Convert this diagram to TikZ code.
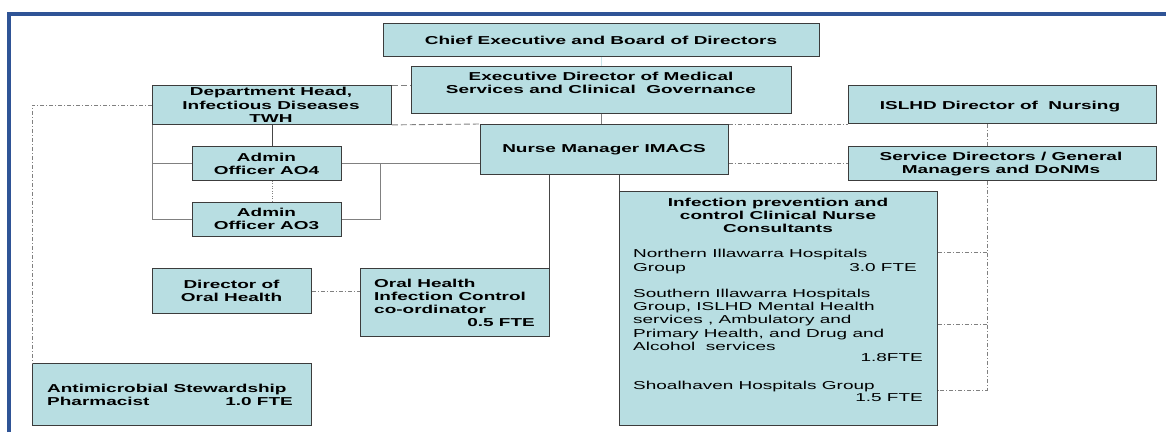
\documentclass[tikz,border=0pt]{standalone}
\usepackage{fontspec}
\setmainfont{Liberation Sans}[FakeStretch=1.65]
\definecolor{boxfill}{RGB}{184,222,226}
\definecolor{boxdraw}{RGB}{60,60,60}
\definecolor{linegray}{RGB}{128,128,128}
\definecolor{linedark}{RGB}{70,70,70}
\definecolor{framecol}{RGB}{47,84,150}
\definecolor{lightcyan}{RGB}{200,228,232}
\tikzset{
  orgbox/.style={draw=boxdraw, fill=boxfill, line width=0.9pt, inner sep=0pt, anchor=north west},
  txt/.style={inner sep=0pt, font=\fontsize{11.5}{13.3}\selectfont\bfseries, align=center},
  ltxt/.style={inner sep=0pt, font=\fontsize{11.5}{13.3}\selectfont\bfseries, anchor=base west},
  rtxt/.style={inner sep=0pt, font=\fontsize{11.5}{13.3}\selectfont\bfseries, anchor=base east},
  ptxt/.style={inner sep=0pt, font=\fontsize{11.5}{13.3}\selectfont, anchor=base west},
  prtxt/.style={inner sep=0pt, font=\fontsize{11.5}{13.3}\selectfont, anchor=base east},
  ctxt/.style={inner sep=0pt, font=\fontsize{11.5}{13.3}\selectfont\bfseries, anchor=base},
  solidln/.style={draw=linegray, line width=0.9pt},
  darkln/.style={draw=linedark, line width=0.9pt},
  dashln/.style={draw=linegray, line width=0.9pt, dash pattern=on 6pt off 3pt},
  dotdash/.style={draw=linegray, line width=0.9pt, dash pattern=on 4pt off 2pt on 1pt off 2pt},
  dotln/.style={draw=linegray, line width=0.9pt, dash pattern=on 1pt off 1.5pt},
}
\begin{document}
\begin{tikzpicture}[x=1pt,y=-1pt]
\path[use as bounding box] (0,0) rectangle (1166,432);
% frame
\draw[framecol, line width=4pt] (9,432) -- (9,14) -- (1166,14);
% boxes
\node[orgbox, minimum width=436, minimum height=33] (chief) at (383,23) {};
\node[orgbox, minimum width=380, minimum height=47] (exec) at (411,66) {};
\node[orgbox, minimum width=239, minimum height=39] (dept) at (152,85) {};
\node[orgbox, minimum width=248, minimum height=50] (nm) at (480,124) {};
\node[orgbox, minimum width=308, minimum height=38] (islhd) at (848,85) {};
\node[orgbox, minimum width=308, minimum height=34] (svc) at (848,146) {};
\node[orgbox, minimum width=149, minimum height=34] (ao4) at (192,146) {};
\node[orgbox, minimum width=149, minimum height=34] (ao3) at (192,202) {};
\node[orgbox, minimum width=159, minimum height=45] (doh) at (152,268) {};
\node[orgbox, minimum width=189, minimum height=68] (oral) at (360,268) {};
\node[orgbox, minimum width=318, minimum height=234] (ipc) at (619,191) {};
\node[orgbox, minimum width=279, minimum height=62] (amr) at (32,363) {};
\coordinate (rv) at (987,0);
\coordinate (rb) at (380,0);
% connectors
\draw[draw=lightcyan, line width=1.2pt] (chief.south) -- (exec.north);
\draw[solidln] (exec.south) -- (exec.south |- nm.north);
\draw[dashln] (dept.north east) -- (dept.north east -| exec.west);
\draw[dashln] (dept.south east) -- (nm.north west);
\draw[dotdash] (nm.north east) -- (nm.north east -| islhd.west);
\draw[dotdash] (svc.west -| nm.east) -- (svc.west);
\draw[dotdash] (islhd.south -| rv) -- (svc.north -| rv);
\coordinate (r1) at (987,252);
\coordinate (r2) at (987,324);
\coordinate (r3) at (987,390);
\draw[dotdash] (svc.south -| rv) -- (r3) -- (r3 -| ipc.east);
\draw[dotdash] (r1 -| ipc.east) -- (r1);
\draw[dotdash] (r2 -| ipc.east) -- (r2);
\draw[darkln] (dept.south) -- (dept.south |- ao4.north);
\draw[dotln] (dept.south |- ao4.south) -- (dept.south |- ao3.north);
\draw[solidln] (dept.south west) -- (dept.south west |- ao3.west) -- (ao3.west);
\draw[solidln] (ao4.west -| dept.west) -- (ao4.west);
\draw[solidln] (ao4.east) -- (ao4.east -| nm.west);
\draw[solidln] (ao4.east -| rb) -- (ao3.east -| rb) -- (ao3.east);
\draw[darkln] (oral.north east |- nm.south) -- (oral.north east);
\draw[darkln] (ipc.north west |- nm.south) -- (ipc.north west);
\draw[dotdash] (doh.east) -- (doh.east -| oral.west);
\draw[dotdash] (dept.west) -- (dept.west -| amr.north west) -- (amr.north west);
% texts
\node[txt] (tchief) at (601,40) {Chief Executive and Board of Directors};
\node[txt] (texec) at (601,83) {Executive Director of Medical\\Services and Clinical\ \ Governance};
\node[txt] (tdept) at (271,105) {Department Head,\\Infectious Diseases\\TWH};
\node[txt] (tao4) at (266.5,164) {Admin\\Officer AO4};
\node[txt] (tao3) at (266.5,219) {Admin\\Officer AO3};
\node[txt] (tnm) at (604,150) {Nurse Manager IMACS};
\node[txt] (tislhd) at (1000,107) {ISLHD Director of\ \ Nursing};
\node[txt] (tsvc) at (1001,164) {Service Directors / General\\Managers and DoNMs};
\node[txt] (tdoh) at (231.5,291) {Director of\\Oral Health};
\node[ltxt] (to1) at (374,287) {Oral Health};
\node[ltxt] (to2) at (374,300) {Infection Control};
\node[ltxt] (to3) at (374,313) {co-ordinator};
\node[rtxt] (to4) at (535,326) {0.5 FTE};
\node[ltxt] (ta1) at (47,392) {Antimicrobial Stewardship};
\node[ltxt] (ta2) at (47,405) {Pharmacist};
\node[rtxt] (ta3) at (293,405) {1.0 FTE};
\node[ctxt] (ti1) at (778,206) {Infection prevention and};
\node[ctxt] (ti2) at (778,219) {control Clinical Nurse};
\node[ctxt] (ti3) at (778,232) {Consultants};
\node[ptxt] (tn1) at (633,257) {Northern Illawarra Hospitals};
\node[ptxt] (tn2) at (633,271) {Group};
\node[prtxt] (tn3) at (917,271) {3.0 FTE};
\node[ptxt] (ts1) at (633,297) {Southern Illawarra Hospitals};
\node[ptxt] (ts2) at (633,310) {Group, ISLHD Mental Health};
\node[ptxt] (ts3) at (633,323) {services , Ambulatory and};
\node[ptxt] (ts4) at (633,337) {Primary Health, and Drug and};
\node[ptxt] (ts5) at (633,350) {Alcohol\ \ services};
\node[prtxt] (ts6) at (923,361) {1.8FTE};
\node[ptxt] (tsh1) at (633,389) {Shoalhaven Hospitals Group};
\node[prtxt] (tsh2) at (923,401) {1.5 FTE};
\end{tikzpicture}
\end{document}
